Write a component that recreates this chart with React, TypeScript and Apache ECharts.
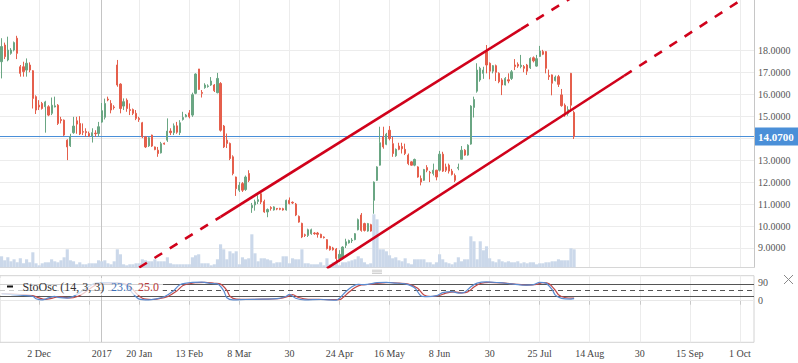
import React, { useEffect, useRef } from 'react';
import * as echarts from 'echarts';

// ---------- axis calendar ----------
const FIRST_TRADING_DAY = '2016-11-15';
const LAST_TRADING_DAY = '2017-08-09';
const LAST_AXIS_DAY = '2017-10-05';
const HOLIDAYS = ['2016-11-24', '2016-12-26', '2017-01-02', '2017-01-16', '2017-02-20', '2017-04-14', '2017-05-29', '2017-07-04'];

const TICK_DATES = ['2016-12-02', '2016-12-27', '2017-01-03', '2017-01-20', '2017-02-13', '2017-03-08', '2017-03-30', '2017-04-24', '2017-05-16', '2017-06-08', '2017-06-30', '2017-07-25', '2017-08-14', '2017-08-30', '2017-09-15', '2017-10-01'];
const TICK_LABELS = ['2 Dec', '', '2017', '20 Jan', '13 Feb', '8 Mar', '30', '24 Apr', '16 May', '8 Jun', '30', '25 Jul', '14 Aug', '30', '15 Sep', '1 Oct'];
const YEAR_MARK_DATE = '2017-01-03';

// ---------- price panel ----------
const PRICE_MIN = 8.12;
const PRICE_MAX = 20.29;
const PRICE_GRID_TICKS = [9, 10, 11, 12, 13, 14, 15, 16, 17, 18];
const PRICE_LABEL_TICKS = [9, 10, 11, 12, 13, 15, 16, 17, 18];
const LAST_PRICE = 14.07;

// [open, close, low, high] per trading day
const CANDLES = [
  [17.48, 18.17, 16.72, 18.55], [18.24, 17.71, 17.6, 18.35], [17.56, 18.01, 17.5, 18.62], [17.86, 18.01, 17.8, 18.1], [18.01, 18.35, 17.95, 18.4],
  [18.55, 17.86, 17.6, 18.66], [17.25, 16.95, 16.8, 17.33], [17.25, 17.03, 16.8, 17.48], [17.1, 17.41, 16.8, 17.63], [17.33, 17.1, 17.0, 17.45],
  [17.07, 15.81, 15.35, 17.1], [15.89, 15.28, 15.1, 15.95], [15.5, 15.42, 15.28, 15.73], [15.58, 15.35, 15.3, 15.65], [15.43, 15.65, 14.25, 15.7],
  [15.43, 15.05, 15.0, 15.5], [15.13, 15.5, 15.05, 15.85], [15.42, 15.47, 15.4, 15.89], [15.5, 14.67, 14.6, 15.55], [14.85, 14.8, 14.67, 14.97],
  [14.82, 14.14, 14.1, 14.85], [13.91, 13.6, 13.0, 13.95], [13.65, 14.06, 13.6, 14.2], [14.25, 14.55, 14.2, 14.97], [14.79, 14.64, 14.2, 14.97],
  [14.67, 14.19, 14.14, 15.0], [14.3, 14.27, 14.14, 14.67], [14.3, 14.25, 14.06, 14.45], [14.21, 14.1, 14.06, 14.3], [14.1, 14.25, 13.8, 14.45],
  [14.23, 14.2, 14.06, 14.36], [14.21, 14.52, 14.06, 14.74], [14.73, 15.25, 14.7, 15.6], [14.95, 15.58, 14.85, 15.8], [15.78, 15.74, 15.68, 15.89],
  [15.58, 15.28, 15.13, 15.73], [15.42, 15.39, 15.3, 15.5], [17.33, 16.42, 16.34, 17.56], [16.46, 15.35, 15.13, 16.5], [15.46, 15.66, 15.28, 15.81],
  [15.73, 15.35, 15.2, 15.81], [15.3, 15.26, 15.05, 15.58], [15.3, 15.13, 15.05, 15.35], [15.13, 14.9, 14.82, 15.28], [14.9, 14.85, 14.74, 14.97],
  [14.7, 14.06, 14.0, 14.74], [14.06, 13.6, 13.55, 14.1], [13.65, 14.02, 13.6, 14.06], [14.14, 13.64, 13.6, 14.16], [13.6, 13.48, 13.45, 13.62],
  [13.45, 13.3, 13.15, 13.6], [13.33, 13.75, 13.3, 13.83], [13.77, 13.73, 13.7, 13.8], [13.91, 14.32, 13.83, 14.9], [14.32, 14.25, 14.14, 14.45],
  [14.25, 14.56, 14.14, 14.67], [14.56, 14.27, 14.2, 14.74], [14.25, 14.7, 14.14, 14.82], [14.85, 14.94, 14.8, 15.2], [14.97, 15.05, 14.95, 15.1],
  [15.15, 14.97, 14.9, 15.28], [15.05, 15.98, 14.97, 16.07], [16.04, 16.92, 16.0, 16.95], [17.15, 16.22, 16.2, 17.15], [16.08, 16.04, 15.85, 16.19],
  [16.3, 16.42, 16.25, 16.5], [16.35, 16.38, 16.3, 16.45], [16.42, 16.6, 16.38, 16.78], [16.42, 16.16, 16.1, 16.46], [16.07, 16.72, 16.04, 16.97],
  [16.49, 14.36, 14.3, 16.55], [14.55, 13.6, 13.55, 14.6], [13.91, 13.76, 13.55, 14.21], [13.76, 13.07, 13.0, 13.8], [13.15, 12.39, 12.31, 13.22],
  [12.23, 11.7, 11.37, 12.25], [11.63, 11.86, 11.55, 12.0], [11.93, 11.63, 11.55, 12.0], [11.66, 12.23, 11.6, 12.3], [12.39, 12.08, 12.0, 12.54],
  [10.83, 10.94, 10.6, 11.05], [10.96, 11.1, 10.7, 11.2], [11.12, 11.2, 11.0, 11.4], [11.47, 11.09, 11.0, 11.55], [11.12, 10.64, 10.6, 11.2],
  [10.64, 10.75, 10.4, 10.8], [10.84, 10.8, 10.7, 10.9], [10.73, 10.87, 10.7, 10.9], [10.8, 10.77, 10.72, 10.82], [10.8, 10.76, 10.72, 10.83],
  [10.79, 10.73, 10.7, 10.83], [10.73, 11.17, 10.7, 11.2], [11.17, 11.02, 10.98, 11.3], [11.08, 11.05, 11.0, 11.12], [11.0, 10.5, 10.45, 11.05],
  [10.44, 10.18, 10.15, 10.48], [10.12, 9.5, 9.45, 10.15], [9.6, 9.57, 9.5, 9.65], [9.57, 9.83, 9.5, 9.88], [9.65, 9.83, 9.6, 9.88],
  [9.68, 9.65, 9.6, 9.72], [9.68, 9.62, 9.47, 9.73], [9.62, 9.47, 9.45, 9.65], [9.5, 9.47, 9.43, 9.53], [9.38, 8.97, 8.93, 9.4],
  [9.07, 8.92, 8.88, 9.1], [9.0, 8.92, 8.88, 9.05], [8.95, 8.52, 8.37, 9.0], [8.52, 8.71, 8.37, 8.9], [8.56, 9.04, 8.52, 9.08],
  [9.12, 9.28, 9.0, 9.42], [9.23, 9.34, 9.2, 9.38], [9.33, 9.36, 9.23, 9.45], [9.38, 9.65, 9.35, 9.68], [9.83, 10.29, 9.8, 10.34],
  [10.5, 9.8, 9.74, 10.59], [10.11, 9.8, 9.75, 10.15], [9.77, 10.11, 9.74, 10.14], [10.06, 9.77, 9.74, 10.1], [11.17, 12.0, 10.56, 12.03],
  [12.08, 12.69, 12.05, 12.72], [12.77, 13.79, 12.75, 14.52], [14.06, 13.6, 13.52, 14.52], [13.72, 14.18, 13.68, 14.24], [14.36, 13.98, 13.9, 14.55],
  [13.75, 13.3, 13.15, 14.06], [13.2, 13.49, 13.15, 13.53], [13.64, 13.49, 13.45, 13.79], [13.62, 13.52, 13.3, 13.79], [13.49, 13.3, 13.23, 13.75],
  [13.23, 12.84, 12.77, 13.3], [12.92, 12.77, 12.75, 12.95], [12.77, 13.03, 12.72, 13.07], [12.69, 12.23, 12.2, 12.72], [12.16, 12.0, 11.85, 12.3],
  [12.08, 12.57, 12.05, 12.6], [12.66, 12.54, 12.45, 12.77], [12.44, 12.41, 12.0, 12.51], [12.39, 12.54, 12.3, 12.84], [12.54, 12.23, 12.08, 12.56],
  [12.54, 13.27, 12.48, 13.42], [13.27, 12.5, 12.46, 13.38], [12.69, 12.54, 12.46, 12.84], [12.77, 12.5, 12.39, 12.84], [12.5, 12.35, 12.3, 12.6],
  [12.3, 12.08, 12.0, 12.39], [12.63, 12.67, 12.54, 12.84], [13.04, 13.45, 13.04, 13.64], [13.45, 13.23, 13.2, 13.5], [13.23, 13.68, 13.2, 13.72],
  [13.73, 15.46, 13.7, 15.5], [15.4, 15.76, 14.94, 15.89], [16.14, 17.1, 16.07, 17.41], [16.65, 17.18, 16.57, 17.25], [16.95, 17.1, 16.7, 17.25],
  [17.94, 17.33, 16.95, 18.24], [17.41, 17.05, 16.68, 17.45], [17.05, 17.3, 16.95, 17.33], [17.3, 17.0, 16.6, 17.35], [16.95, 16.57, 16.5, 17.0],
  [16.65, 16.42, 15.96, 16.73], [16.42, 16.72, 16.4, 16.78], [16.66, 16.6, 16.5, 16.95], [16.72, 17.02, 16.65, 17.1], [17.33, 17.26, 17.1, 17.6],
  [17.36, 17.28, 17.2, 17.45], [17.26, 17.32, 17.18, 17.79], [17.26, 17.18, 17.0, 17.33], [17.33, 17.05, 16.88, 17.38], [17.2, 17.63, 17.15, 17.68],
  [17.66, 17.52, 17.45, 17.72], [17.28, 17.62, 17.25, 17.79], [17.72, 17.97, 17.7, 18.2], [17.94, 17.82, 17.78, 18.02], [17.94, 17.18, 16.95, 17.96],
  [16.85, 16.8, 16.65, 17.12], [16.88, 16.5, 15.95, 16.9], [16.62, 16.78, 16.58, 16.85], [16.8, 16.45, 16.33, 16.88], [15.97, 15.48, 15.43, 16.24],
  [15.5, 15.05, 14.97, 15.58], [15.12, 15.3, 15.02, 15.45], [16.95, 15.5, 15.2, 16.97], [15.17, 14.07, 13.96, 15.25],
];

const VOLUMES = [
  11, 7, 10, 6, 8, 5, 9, 4, 8, 5, 15, 4, 2, 4, 5, 5, 8, 6, 5, 7,
  10, 18, 7, 6, 3, 5, 3, 3, 4, 4, 4, 7, 6, 7, 4, 3, 6, 18, 13, 3,
  2, 3, 3, 4, 4, 8, 7, 6, 6, 8, 6, 6, 6, 10, 4, 3, 3, 3, 3, 3,
  3, 10, 12, 13, 4, 4, 4, 2, 3, 8, 23, 18, 8, 16, 14, 16, 3, 10, 8, 9,
  33, 14, 6, 9, 9, 8, 7, 4, 5, 5, 11, 11, 4, 9, 8, 8, 18, 4, 4, 3,
  3, 3, 5, 2, 9, 3, 5, 5, 2, 5, 5, 6, 7, 8, 11, 9, 5, 3, 4, 53,
  48, 18, 18, 16, 12, 9, 10, 7, 6, 9, 4, 3, 8, 8, 8, 8, 5, 5, 3, 5,
  13, 8, 5, 4, 3, 5, 10, 6, 8, 8, 31, 26, 8, 26, 17, 21, 9, 6, 5, 8,
  6, 5, 6, 5, 5, 6, 4, 5, 4, 5, 5, 3, 4, 4, 5, 5, 6, 6, 8, 7,
  7, 7, 19, 18,
];
const VOLUME_AXIS_MAX = 67;

// channel lines: [bar index, price]
const UPPER_CHANNEL_DASHED_LEFT = [[44, 8.11], [70, 10.42]];
const UPPER_CHANNEL_SOLID = [[70, 10.42], [166, 18.96]];
const UPPER_CHANNEL_DASHED_RIGHT = [[166, 18.96], [182, 20.38]];
const LOWER_CHANNEL_SOLID = [[104, 8.07], [199, 16.84]];
const LOWER_CHANNEL_DASHED = [[199, 16.84], [237, 20.35]];

// ---------- stochastic panel ----------
const STOCH_MIN = -208;
const STOCH_MAX = 125;
const STOCH_TICKS = [0, 90];
const STOCH_LEVELS = [80, 50, 20];
const STOCH_K = [
  [0, 34], [6, 28], [10, 22], [11, 10], [13, 4], [15, 14], [17, 22], [18, 17], [21, 13], [23, 22], [25, 40], [28, 72], [30, 88],
  [33, 90], [38, 86], [40, 75], [42, 35], [44, 8], [47, 4], [49, 8], [52, 20], [55, 50], [57, 80], [61, 92], [64, 93], [67, 86],
  [69, 84], [71, 50], [72, 15], [74, 4], [78, 6], [83, 8], [88, 10], [91, 22], [92, 32], [94, 12], [97, 4], [102, 6], [107, 3],
  [108, 12], [110, 45], [112, 70], [114, 82], [116, 80], [120, 90], [123, 92], [126, 88], [129, 84], [132, 65], [134, 25], [136, 20],
  [139, 25], [141, 40], [144, 45], [146, 38], [148, 42], [150, 70], [152, 88], [155, 94], [159, 90], [163, 84], [167, 78], [170, 80],
  [172, 92], [174, 88], [176, 55], [177, 28], [179, 12], [182, 8], [183, 10],
];
const STOCH_D = [
  [0, 36], [6, 31], [10, 26], [12, 14], [14, 7], [16, 12], [18, 19], [20, 17], [22, 14], [24, 20], [26, 35], [29, 68], [31, 85],
  [34, 89], [39, 86], [41, 72], [43, 38], [45, 12], [48, 6], [50, 9], [53, 20], [56, 48], [58, 76], [62, 90], [65, 92], [68, 87],
  [70, 83], [72, 52], [73, 22], [75, 8], [79, 7], [84, 8], [89, 11], [92, 24], [93, 30], [95, 16], [98, 7], [103, 6], [108, 5],
  [109, 14], [111, 42], [113, 66], [115, 79], [117, 81], [121, 88], [124, 91], [127, 88], [130, 83], [133, 62], [135, 28], [137, 21],
  [140, 26], [142, 38], [145, 44], [147, 39], [149, 44], [151, 68], [153, 86], [156, 92], [160, 89], [164, 83], [168, 78], [171, 81],
  [173, 90], [175, 85], [177, 52], [178, 30], [180, 16], [183, 13],
];
const STOCH_TITLE = 'StoOsc (14, 3, 3)';
const STOCH_K_VALUE = '23.6';
const STOCH_D_VALUE = '25.0';

// ---------- styles ----------
const FONT = '"Liberation Serif", "DejaVu Serif", serif';
const UP_COLOR = '#6aa683';
const DOWN_COLOR = '#e55f4c';
const VOLUME_COLOR = '#cbd8ea';
const CHANNEL_COLOR = '#d0021b';
const LAST_PRICE_COLOR = '#4a8fd8';
const K_COLOR = '#5a8bd0';
const D_COLOR = '#c04848';
const GRID_LINE = '#ececec';

function iso(d: Date) {
  return d.toISOString().slice(0, 10);
}

function buildAxisDates() {
  const out: string[] = [];
  const d = new Date(FIRST_TRADING_DAY + 'T00:00:00Z');
  const lastTrading = new Date(LAST_TRADING_DAY + 'T00:00:00Z');
  const end = new Date(LAST_AXIS_DAY + 'T00:00:00Z');
  while (d <= end) {
    const s = iso(d);
    const dow = d.getUTCDay();
    if (d > lastTrading || (dow !== 0 && dow !== 6 && !HOLIDAYS.includes(s))) out.push(s);
    d.setUTCDate(d.getUTCDate() + 1);
  }
  return out;
}

export default function App() {
  const ref = useRef<HTMLDivElement>(null);

  useEffect(() => {
    const el = ref.current;
    if (!el) return;
    const chart = echarts.init(el, undefined, { renderer: 'svg' });
    const dates = buildAxisDates();
    const tickIdx = new Set(TICK_DATES.map((d) => dates.indexOf(d)));
    const labelByDate: Record<string, string> = {};
    TICK_DATES.forEach((d, k) => {
      labelByDate[d] = TICK_LABELS[k];
    });
    const isTick = (i: number) => tickIdx.has(i);
    const at = (pts: number[][]) => pts.map(([i, v]) => [dates[i], v]);

    const gridLeft = -1.5;
    const gridWidth = 755.5;

    const channel = (pts: number[][], dashed: boolean) => ({
      type: 'line',
      xAxisIndex: 0,
      yAxisIndex: 0,
      data: at(pts),
      symbol: 'none',
      silent: true,
      clip: true,
      z: 12,
      lineStyle: { color: CHANNEL_COLOR, width: 2.6, type: dashed ? [9, 9] : 'solid', cap: 'butt' },
    });

    const option: any = {
      animation: false,
      grid: [
        { left: gridLeft, top: 0, width: gridWidth, height: 267.3 },
        { left: gridLeft, top: 200.3, width: gridWidth, height: 67 },
        { left: gridLeft, top: 275.7, width: gridWidth, height: 66.6, show: true, borderColor: '#d2d2d2', borderWidth: 1 },
      ],
      xAxis: [
        {
          type: 'category', gridIndex: 0, data: dates, boundaryGap: true,
          axisLine: { show: true, lineStyle: { color: '#d6d6d6' } },
          axisTick: { show: false },
          axisLabel: { show: false },
          splitLine: { show: true, interval: isTick, alignWithLabel: true, lineStyle: { color: GRID_LINE, width: 1 } },
        },
        {
          type: 'category', gridIndex: 1, data: dates, boundaryGap: true,
          axisLine: { show: false }, axisTick: { show: false }, axisLabel: { show: false }, splitLine: { show: false },
        },
        {
          type: 'category', gridIndex: 2, data: dates, boundaryGap: true,
          axisLine: { show: false },
          axisTick: { show: true, alignWithLabel: true, interval: isTick, length: 4, lineStyle: { color: '#c8c8c8' } },
          axisLabel: {
            show: true, interval: isTick, margin: 6, color: '#444', fontSize: 10, fontFamily: FONT,
            formatter: (v: string) => labelByDate[v] ?? '',
          },
          splitLine: { show: true, interval: isTick, alignWithLabel: true, lineStyle: { color: GRID_LINE, width: 1 } },
        },
      ],
      yAxis: [
        {
          type: 'value', gridIndex: 0, position: 'right', min: PRICE_MIN, max: PRICE_MAX, scale: true,
          axisLine: { show: true, lineStyle: { color: '#c6c6c6' } },
          axisTick: { show: false },
          splitLine: { show: false },
          axisLabel: {
            show: true, customValues: PRICE_LABEL_TICKS, margin: 4, color: '#555', fontSize: 10, fontFamily: FONT,
            formatter: (v: number) => v.toFixed(4),
          },
        },
        {
          type: 'value', gridIndex: 1, min: 0, max: VOLUME_AXIS_MAX, show: false, splitLine: { show: false },
        },
        {
          type: 'value', gridIndex: 2, position: 'right', min: STOCH_MIN, max: STOCH_MAX,
          axisLine: { show: false }, axisTick: { show: false }, splitLine: { show: false },
          axisLabel: {
            show: true, customValues: STOCH_TICKS, margin: 4, color: '#555', fontSize: 10, fontFamily: FONT,
            formatter: (v: number) => String(v),
          },
        },
      ],
      series: [
        {
          type: 'bar', xAxisIndex: 1, yAxisIndex: 1, data: VOLUMES, barCategoryGap: '0%', silent: true, z: 6,
          itemStyle: { color: VOLUME_COLOR },
        },
        {
          type: 'candlestick', xAxisIndex: 0, yAxisIndex: 0, data: CANDLES, barWidth: 1.7, silent: true, z: 10,
          itemStyle: { color: UP_COLOR, color0: DOWN_COLOR, borderColor: UP_COLOR, borderColor0: DOWN_COLOR, borderWidth: 1 },
          markLine: {
            silent: true, symbol: ['none', 'none'], z: 5, animation: false,
            label: { show: false },
            lineStyle: { color: GRID_LINE, width: 1, type: 'solid' },
            data: [
              ...PRICE_GRID_TICKS.map((v) => ({ yAxis: v })),
              { xAxis: YEAR_MARK_DATE, lineStyle: { color: '#c4c4c4', width: 1, type: 'solid' } },
              {
                yAxis: LAST_PRICE,
                lineStyle: { color: LAST_PRICE_COLOR, width: 1.2, type: 'solid' },
                label: {
                  show: true, position: 'end', distance: 1, formatter: LAST_PRICE.toFixed(4),
                  backgroundColor: LAST_PRICE_COLOR, color: '#fff', fontWeight: 'bold', fontSize: 11, fontFamily: FONT,
                  padding: [4, 8, 3, 3],
                },
              },
            ],
          },
        },
        channel(UPPER_CHANNEL_DASHED_LEFT, true),
        channel(UPPER_CHANNEL_SOLID, false),
        channel(UPPER_CHANNEL_DASHED_RIGHT, true),
        channel(LOWER_CHANNEL_SOLID, false),
        channel(LOWER_CHANNEL_DASHED, true),
        {
          type: 'line', xAxisIndex: 2, yAxisIndex: 2, data: at(STOCH_D), symbol: 'none', smooth: 0.3, silent: true, z: 10,
          lineStyle: { color: D_COLOR, width: 1.2 },
        },
        {
          type: 'line', xAxisIndex: 2, yAxisIndex: 2, data: at(STOCH_K), symbol: 'none', smooth: 0.3, silent: true, z: 10,
          lineStyle: { color: K_COLOR, width: 1.2 },
          markLine: {
            silent: true, symbol: ['none', 'none'], z: 5, animation: false,
            label: { show: false },
            data: [
              { yAxis: 0, lineStyle: { color: '#e8e8e8', width: 1, type: 'solid' } },
              { xAxis: YEAR_MARK_DATE, lineStyle: { color: '#c4c4c4', width: 1, type: 'solid' } },
              { yAxis: STOCH_LEVELS[0], lineStyle: { color: '#555', width: 1.2, type: 'solid' } },
              { yAxis: STOCH_LEVELS[1], lineStyle: { color: '#555', width: 1.2, type: [5, 4] } },
              { yAxis: STOCH_LEVELS[2], lineStyle: { color: '#555', width: 1.2, type: 'solid' } },
            ],
          },
        },
      ],
      graphic: [
        { type: 'rect', z: 100, silent: true, shape: { x: 0, y: 278, width: 163, height: 17 }, style: { fill: 'rgba(255,255,255,0.72)' } },
        { type: 'rect', z: 101, silent: true, shape: { x: 7, y: 285.5, width: 6, height: 2 }, style: { fill: '#111' } },
        {
          type: 'text', z: 101, silent: true, x: 22.5, y: 287,
          style: { text: STOCH_TITLE, fill: '#333', fontSize: 12, fontFamily: FONT, verticalAlign: 'middle' },
        },
        {
          type: 'text', z: 101, silent: true, x: 111, y: 287,
          style: { text: STOCH_K_VALUE, fill: '#3f6fb8', fontSize: 12, fontFamily: FONT, verticalAlign: 'middle' },
        },
        {
          type: 'text', z: 101, silent: true, x: 138, y: 287,
          style: { text: STOCH_D_VALUE, fill: '#b83a3a', fontSize: 12, fontFamily: FONT, verticalAlign: 'middle' },
        },
        { type: 'line', z: 101, silent: true, shape: { x1: 372, y1: 270.2, x2: 382, y2: 270.2 }, style: { stroke: '#cccccc', lineWidth: 1 } },
        { type: 'line', z: 101, silent: true, shape: { x1: 372, y1: 271.8, x2: 382, y2: 271.8 }, style: { stroke: '#cccccc', lineWidth: 1 } },
        { type: 'line', z: 101, silent: true, shape: { x1: 372, y1: 273.4, x2: 382, y2: 273.4 }, style: { stroke: '#cccccc', lineWidth: 1 } },
        { type: 'line', z: 101, silent: true, shape: { x1: 784, y1: 275, x2: 793, y2: 284 }, style: { stroke: '#8a8a8a', lineWidth: 1 } },
        { type: 'line', z: 101, silent: true, shape: { x1: 793, y1: 275, x2: 784, y2: 284 }, style: { stroke: '#8a8a8a', lineWidth: 1 } },
      ],
    };

    chart.setOption(option);
    return () => chart.dispose();
  }, []);

  return (
    <div
      ref={ref}
      style={{ position: 'fixed', left: 0, top: 0, width: 798, height: 363, background: '#fff' }}
    />
  );
}
